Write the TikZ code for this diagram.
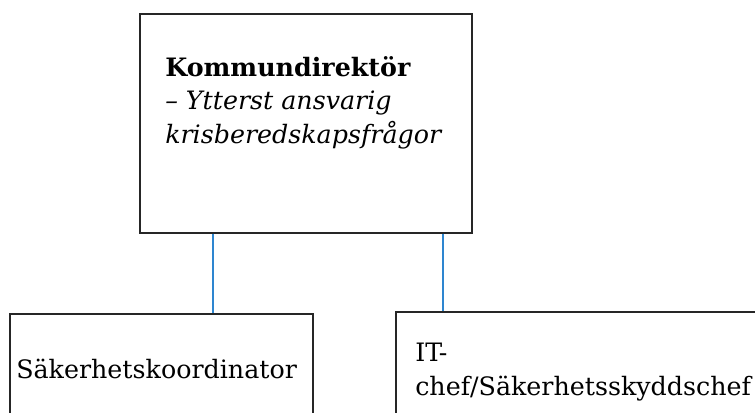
\documentclass[tikz,border=0pt]{standalone}
\usepackage{fontspec}
\setmainfont{DejaVu Serif}
\usetikzlibrary{positioning}
\definecolor{linjebla}{RGB}{46,134,208}
\tikzstyle{ruta} = [draw=black!85, line width=1.3pt, rectangle, inner sep=0pt, anchor=north west]
\tikzstyle{linje} = [draw=linjebla, line width=1.2pt]
\tikzstyle{rubrik} = [inner sep=0pt, anchor=base west, align=left, font=\fontsize{19}{25}\selectfont]

\begin{document}
\begin{tikzpicture}[x=0.75pt,y=-0.75pt]
	\useasboundingbox (0,0) rectangle (755,412);
	\clip (0,0) rectangle (755,412);
	% rutorna
	\node[ruta, minimum width=249pt, minimum height=164.25pt] (boss) at (139,13) {};
	\node[ruta, minimum width=227.25pt, minimum height=95.25pt] (sak) at (9,313) {};
	\node[ruta, minimum width=281.25pt, minimum height=96.75pt] (itchef) at (395,311) {};
	% texterna (base = sista raden)
	\node[rubrik] (bosstext) at (165,143) {\textbf{Kommundirektör}\\\textit{– Ytterst ansvarig}\\\textit{krisberedskapsfrågor}};
	\node[rubrik] (saktext) at (16,378) {Säkerhetskoordinator};
	\node[rubrik] (ittext) at (415,395) {IT-\\chef/Säkerhetsskyddschef};
	% linjerna
	\coordinate (v1) at (213,0);
	\coordinate (v2) at (443,0);
	\draw[linje] (boss.south -| v1) -- (sak.north -| v1);
	\draw[linje] (boss.south -| v2) -- (itchef.north -| v2);
\end{tikzpicture}
\end{document}
